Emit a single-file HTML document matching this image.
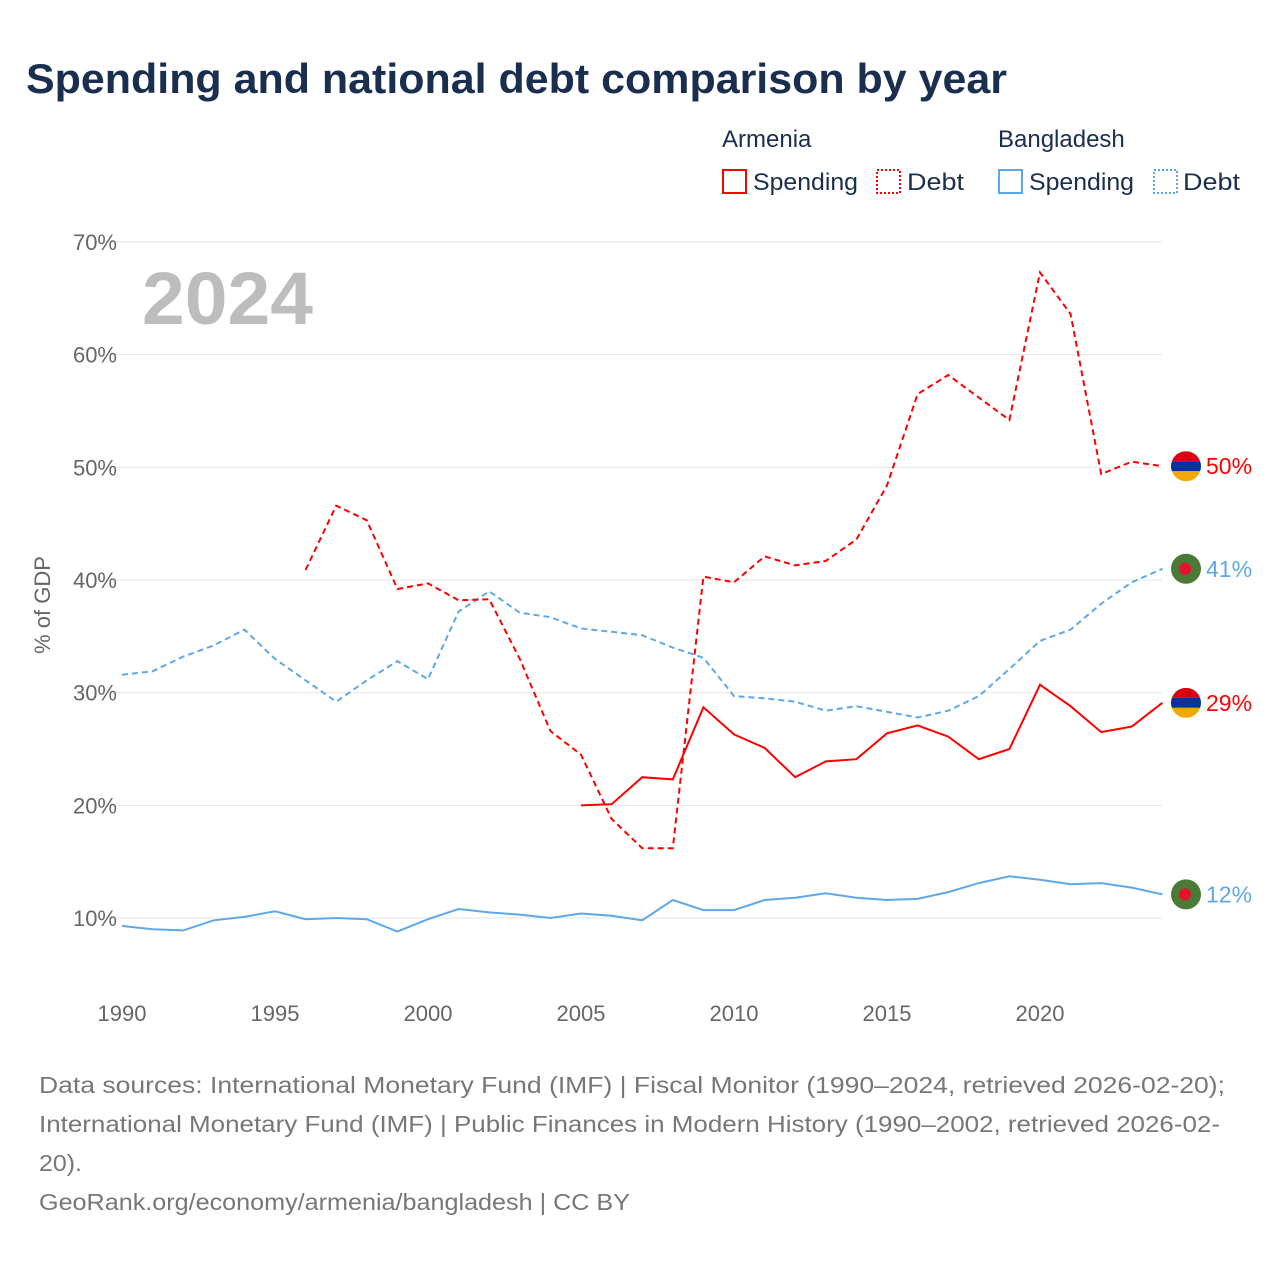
<!DOCTYPE html>
<html><head><meta charset="utf-8">
<style>
body{margin:0;background:#fff;font-family:"Liberation Sans",sans-serif;}
svg text{font-family:"Liberation Sans",sans-serif;}
</style></head>
<body>
<svg id="chart" width="1280" height="1280" viewBox="0 0 1280 1280">
<text x="26" y="93" font-size="42" font-weight="bold" fill="#1a2e4f" textLength="981" lengthAdjust="spacingAndGlyphs">Spending and national debt comparison by year</text>
<g font-size="24" fill="#1a2e4f">
<text x="722" y="147">Armenia</text>
<text x="998" y="147">Bangladesh</text>
<g><rect x="723" y="170" width="23" height="23" fill="none" stroke="#f00" stroke-width="2"/><text x="753" y="190" textLength="105" lengthAdjust="spacingAndGlyphs">Spending</text></g>
<g><rect x="877" y="170" width="23" height="23" fill="none" stroke="#f00" stroke-width="2" stroke-dasharray="2,2"/><text x="907" y="190" textLength="57" lengthAdjust="spacingAndGlyphs">Debt</text></g>
<g><rect x="999" y="170" width="23" height="23" fill="none" stroke="#5ea8e8" stroke-width="2"/><text x="1029" y="190" textLength="105" lengthAdjust="spacingAndGlyphs">Spending</text></g>
<g><rect x="1154" y="170" width="23" height="23" fill="none" stroke="#5ea8e8" stroke-width="2" stroke-dasharray="2,2"/><text x="1183" y="190" textLength="57" lengthAdjust="spacingAndGlyphs">Debt</text></g>
</g>
<g id="grid"></g>
<g id="yticks" font-size="22" fill="#666"></g>
<g id="xticks" font-size="22" fill="#666"></g>
<text transform="translate(50,605) rotate(-90)" text-anchor="middle" font-size="22" fill="#666">% of GDP</text>
<text x="142" y="324" font-size="74" font-weight="bold" fill="#bdbdbd" textLength="171" lengthAdjust="spacingAndGlyphs">2024</text>
<g id="series"></g>
<g id="ends"></g>
<g font-size="23" fill="#777">
<text x="39" y="1093" textLength="1186" lengthAdjust="spacingAndGlyphs">Data sources: International Monetary Fund (IMF) | Fiscal Monitor (1990–2024, retrieved 2026-02-20);</text>
<text x="39" y="1132" textLength="1181" lengthAdjust="spacingAndGlyphs">International Monetary Fund (IMF) | Public Finances in Modern History (1990–2002, retrieved 2026-02-</text>
<text x="39" y="1171" textLength="43" lengthAdjust="spacingAndGlyphs">20).</text>
<text x="39" y="1210" textLength="591" lengthAdjust="spacingAndGlyphs">GeoRank.org/economy/armenia/bangladesh | CC BY</text>
</g>
</svg>
<script>
const years=[];for(let y=1990;y<=2024;y++)years.push(y);
const yTicks=[10,20,30,40,50,60,70];
const xTicks=[1990,1995,2000,2005,2010,2015,2020];
const armDebt=[null,null,null,null,null,null,40.9,46.6,45.3,39.2,39.7,38.2,38.3,33.0,26.6,24.5,18.8,16.2,16.2,40.3,39.8,42.1,41.3,41.7,43.6,48.4,56.5,58.2,56.2,54.2,67.3,63.6,49.4,50.5,50.1];
const armSpend=[null,null,null,null,null,null,null,null,null,null,null,null,null,null,null,20.0,20.1,22.5,22.3,28.7,26.3,25.1,22.5,23.9,24.1,26.4,27.1,26.1,24.1,25.0,30.7,28.8,26.5,27.0,29.1];
const bgdDebt=[31.6,31.9,33.2,34.2,35.6,33.0,31.1,29.2,31.1,32.8,31.2,37.2,39.0,37.1,36.7,35.7,35.4,35.1,34.0,33.1,29.7,29.5,29.2,28.4,28.8,28.3,27.8,28.4,29.7,32.1,34.6,35.6,37.9,39.8,41.0];
const bgdSpend=[9.3,9.0,8.9,9.8,10.1,10.6,9.9,10.0,9.9,8.8,9.9,10.8,10.5,10.3,10.0,10.4,10.2,9.8,11.6,10.7,10.7,11.6,11.8,12.2,11.8,11.6,11.7,12.3,13.1,13.7,13.4,13.0,13.1,12.7,12.1];
const X=y=>122+(y-1990)*30.6;
const Y=v=>1030.7-v*11.267;
const NS="http://www.w3.org/2000/svg";
function mk(t,a,p){const e=document.createElementNS(NS,t);for(const k in a)e.setAttribute(k,a[k]);p.appendChild(e);return e;}
const grid=document.getElementById('grid'),yt=document.getElementById('yticks'),xt=document.getElementById('xticks');
yTicks.forEach(v=>{const l=mk('line',{x1:108,x2:1162,y1:Y(v),y2:Y(v),stroke:'#e6e6e6','stroke-width':1},grid);


const t=mk('text',{x:117,y:Y(v)+8,'text-anchor':'end'},yt);t.textContent=v+'%';

});
xTicks.forEach(v=>{const t=mk('text',{x:X(v),y:1021,'text-anchor':'middle'},xt);t.textContent=v;

});
const ser=document.getElementById('series');
function line(arr,col,dash,name){let d='';let started=false;arr.forEach((v,i)=>{if(v==null){started=false;return;}d+=(started?'L':'M')+X(years[i]).toFixed(1)+','+Y(v).toFixed(1);started=true;});
const p=mk('path',{d:d,fill:'none',stroke:col,'stroke-width':2,'stroke-dasharray':dash||'none'},ser);

}
line(bgdSpend,'#5ea8e8',null,'bangladesh-spending-line');
line(bgdDebt,'#5ea8e8','6,4','bangladesh-debt-line');
line(armDebt,'#f00','6,4','armenia-debt-line');
line(armSpend,'#f00',null,'armenia-spending-line');
const ends=document.getElementById('ends');
function flag(v,arm,col,name){const cx=1186,cy=Y(v);const g=mk('g',{},ends);


if(arm){const cpth=mk('clipPath',{id:'c'+name},g);mk('circle',{cx:cx,cy:cy,r:15},cpth);
const gg=mk('g',{'clip-path':'url(#c'+name+')'},g);
mk('rect',{x:cx-15,y:cy-15,width:30,height:10,fill:'#d90012'},gg);
mk('rect',{x:cx-15,y:cy-5,width:30,height:10,fill:'#0033a0'},gg);
mk('rect',{x:cx-15,y:cy+5,width:30,height:10,fill:'#f2a800'},gg);}
else{mk('circle',{cx:cx,cy:cy,r:15,fill:'#4a7a35'},g);mk('circle',{cx:cx-1,cy:cy,r:6,fill:'#e8102a'},g);}
const t=mk('text',{x:1206,y:cy+8,'font-size':23,fill:col},g);t.textContent=Math.round(v)+'%';}
flag(armDebt[34],true,'#f00','armenia-debt-end');
flag(armSpend[34],true,'#f00','armenia-spending-end');
flag(bgdDebt[34],false,'#5ea8e8','bangladesh-debt-end');
flag(bgdSpend[34],false,'#5ea8e8','bangladesh-spending-end');
</script>
</body></html>
